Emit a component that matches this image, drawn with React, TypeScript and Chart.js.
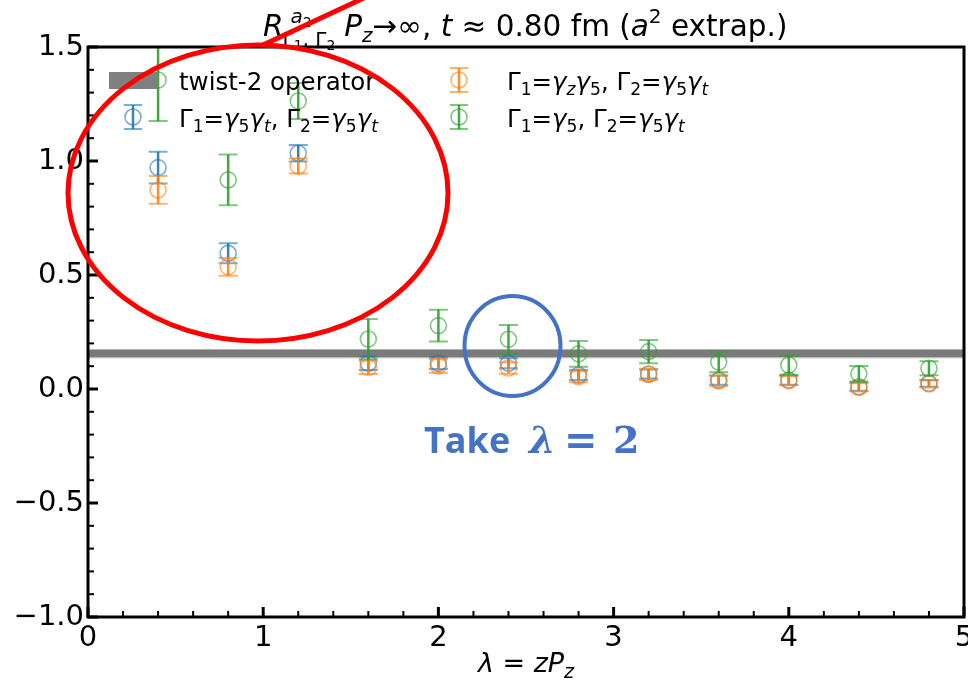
import React, { useEffect, useRef } from "react";
import { Chart, registerables } from "chart.js";

Chart.register(...registerables);

// λ = z·P_z sample points shared by all three operator combinations
const lambdas = [0.4, 0.8, 1.2, 1.6, 2.0, 2.4, 2.8, 3.2, 3.6, 4.0, 4.4, 4.8];

// Γ1=γ5γt, Γ2=γ5γt
const blueVals = [0.971, 0.595, 1.034, 0.113, 0.113, 0.113, 0.061, 0.066, 0.039, 0.039, 0.010, 0.025];
const blueErrs = [0.070, 0.044, 0.036, 0.030, 0.025, 0.022, 0.022, 0.020, 0.020, 0.020, 0.018, 0.015];

// Γ1=γzγ5, Γ2=γ5γt
const orangeVals = [0.873, 0.536, 0.978, 0.095, 0.101, 0.092, 0.054, 0.064, 0.035, 0.036, 0.007, 0.022];
const orangeErrs = [0.061, 0.039, 0.033, 0.029, 0.030, 0.025, 0.024, 0.025, 0.023, 0.020, 0.018, 0.015];

// Γ1=γ5, Γ2=γ5γt
const greenVals = [1.355, 0.917, 1.263, 0.219, 0.278, 0.218, 0.154, 0.164, 0.118, 0.105, 0.067, 0.091];
const greenErrs = [0.180, 0.111, 0.079, 0.088, 0.070, 0.063, 0.056, 0.051, 0.045, 0.042, 0.034, 0.031];

// twist-2 operator band (central value ± error)
const twist2Value = 0.155;
const twist2Err = 0.016;

const xTickValues = [0, 1, 2, 3, 4, 5];
const yTickValues = [-1.0, -0.5, 0.0, 0.5, 1.0, 1.5];

const FONT = '"DejaVu Sans"';
const BLUE = "31,119,180";
const ORANGE = "255,127,14";
const GREEN = "44,160,44";

type Run = { t: string; size: number; it?: boolean; dy?: number };

function drawRuns(ctx: CanvasRenderingContext2D, x: number, y: number, runs: Run[]): number {
  ctx.textAlign = "left";
  ctx.textBaseline = "alphabetic";
  for (const r of runs) {
    ctx.font = `${r.it ? "italic " : ""}${r.size}px ${FONT}`;
    ctx.fillText(r.t, x, y + (r.dy || 0));
    x += ctx.measureText(r.t).width;
  }
  return x;
}

function runsWidth(ctx: CanvasRenderingContext2D, runs: Run[]): number {
  let w = 0;
  for (const r of runs) {
    ctx.font = `${r.it ? "italic " : ""}${r.size}px ${FONT}`;
    w += ctx.measureText(r.t).width;
  }
  return w;
}

function gammaRuns(size: number, first: Run[]): Run[] {
  const sub = size * 0.7;
  const dy = size * 0.22;
  return [
    { t: "Γ", size },
    { t: "1", size: sub, dy },
    { t: "=", size },
    ...first,
    { t: ", Γ", size },
    { t: "2", size: sub, dy },
    { t: "=", size },
    { t: "γ", size, it: true },
    { t: "5", size: sub, dy },
    { t: "γ", size, it: true },
    { t: "t", size: sub, dy, it: true },
  ];
}

function errHandle(ctx: CanvasRenderingContext2D, x: number, y: number, rgb: string) {
  ctx.strokeStyle = `rgba(${rgb},0.9)`;
  ctx.lineWidth = 2.5;
  ctx.beginPath();
  ctx.moveTo(x, y - 12);
  ctx.lineTo(x, y + 12);
  ctx.stroke();
  ctx.strokeStyle = `rgba(${rgb},0.6)`;
  ctx.lineWidth = 2;
  ctx.beginPath();
  ctx.moveTo(x - 9, y - 12);
  ctx.lineTo(x + 9, y - 12);
  ctx.moveTo(x - 9, y + 12);
  ctx.lineTo(x + 9, y + 12);
  ctx.stroke();
  ctx.lineWidth = 1.6;
  ctx.beginPath();
  ctx.arc(x, y, 8, 0, Math.PI * 2);
  ctx.stroke();
}

const decorPlugin = {
  id: "decor",
  beforeDatasetsDraw(chart: any) {
    const { ctx, chartArea: a, scales } = chart;
    const y = scales.y;
    const yTop = y.getPixelForValue(twist2Value + twist2Err);
    const yBot = y.getPixelForValue(twist2Value - twist2Err);
    ctx.save();
    ctx.fillStyle = "#7a7a7a";
    ctx.fillRect(a.left, yTop, a.right - a.left, yBot - yTop);
    ctx.strokeStyle = "rgba(170,170,170,0.9)";
    ctx.lineWidth = 1;
    ctx.beginPath();
    ctx.moveTo(a.left, yTop - 0.5);
    ctx.lineTo(a.right, yTop - 0.5);
    ctx.moveTo(a.left, yBot + 0.5);
    ctx.lineTo(a.right, yBot + 0.5);
    ctx.stroke();
    ctx.restore();
  },
  beforeDatasetDraw(chart: any, args: any) {
    const { ctx, chartArea: a, scales } = chart;
    const ds = chart.data.datasets[args.index];
    const errs: number[] = ds.errs;
    const rgb: string = ds.rgb;
    ctx.save();
    ctx.beginPath();
    ctx.rect(a.left, a.top, a.right - a.left, a.bottom - a.top);
    ctx.clip();
    ds.data.forEach((p: any, i: number) => {
      const px = scales.x.getPixelForValue(p.x);
      const hi = scales.y.getPixelForValue(p.y + errs[i]);
      const lo = scales.y.getPixelForValue(p.y - errs[i]);
      ctx.strokeStyle = `rgba(${rgb},0.9)`;
      ctx.lineWidth = 2.5;
      ctx.beginPath();
      ctx.moveTo(px, hi);
      ctx.lineTo(px, lo);
      ctx.stroke();
      ctx.strokeStyle = `rgba(${rgb},0.6)`;
      ctx.lineWidth = 2;
      ctx.beginPath();
      ctx.moveTo(px - 9.5, hi);
      ctx.lineTo(px + 9.5, hi);
      ctx.moveTo(px - 9.5, lo);
      ctx.lineTo(px + 9.5, lo);
      ctx.stroke();
    });
    ctx.restore();
  },
  afterDraw(chart: any) {
    const { ctx, chartArea: a, scales } = chart;
    ctx.save();

    // axes frame
    ctx.strokeStyle = "#000";
    ctx.lineWidth = 3;
    ctx.strokeRect(a.left, a.top, a.right - a.left, a.bottom - a.top);

    // inward ticks on bottom and left
    ctx.lineCap = "butt";
    for (let i = 0; i <= 25; i++) {
      const v = i * 0.2;
      const major = i % 5 === 0;
      const px = scales.x.getPixelForValue(v);
      ctx.lineWidth = major ? 3 : 2;
      ctx.beginPath();
      ctx.moveTo(px, a.bottom);
      ctx.lineTo(px, a.bottom - (major ? 10 : 6));
      ctx.stroke();
    }
    for (let i = 0; i <= 25; i++) {
      const v = -1 + i * 0.1;
      const major = i % 5 === 0;
      const py = scales.y.getPixelForValue(v);
      ctx.lineWidth = major ? 3 : 2;
      ctx.beginPath();
      ctx.moveTo(a.left, py);
      ctx.lineTo(a.left + (major ? 10 : 6), py);
      ctx.stroke();
    }

    // title
    ctx.fillStyle = "#000";
    const base = 36;
    const T = 29.5;
    const xR = drawRuns(ctx, 263, base, [{ t: "R", size: T, it: true }]);
    const supEnd = drawRuns(ctx, xR + 7, base - 13, [
      { t: "a", size: 20, it: true },
      { t: "2", size: 14, dy: 4 },
    ]);
    const subEnd = drawRuns(ctx, xR - 1, base + 10, [
      { t: "Γ", size: 20 },
      { t: "1", size: 14, dy: 4 },
      { t: ", Γ", size: 20 },
      { t: "2", size: 14, dy: 4 },
    ]);
    drawRuns(ctx, Math.max(supEnd, subEnd) + 9, base, [
      { t: "P", size: T, it: true },
      { t: "z", size: 20, it: true, dy: 6 },
      { t: "→∞, ", size: T },
      { t: "t", size: T, it: true },
      { t: " ≈ 0.80 fm (", size: T },
      { t: "a", size: T, it: true },
      { t: "2", size: 20, dy: -13 },
      { t: " extrap.)", size: T },
    ]);

    // x-axis title
    const xl: Run[] = [
      { t: "λ", size: 27, it: true },
      { t: " = ", size: 27 },
      { t: "zP", size: 27, it: true },
      { t: "z", size: 19, it: true, dy: 6 },
    ];
    drawRuns(ctx, (a.left + a.right) / 2 - runsWidth(ctx, xl) / 2, 672, xl);

    // legend
    const L = 24.5;
    const ls = L * 0.7;
    const ld = L * 0.22;
    ctx.fillStyle = "#808080";
    ctx.fillRect(109, 72, 49, 17);
    errHandle(ctx, 133, 117, BLUE);
    errHandle(ctx, 459, 80, ORANGE);
    errHandle(ctx, 459, 117, GREEN);
    ctx.fillStyle = "#000";
    drawRuns(ctx, 179, 90, [{ t: "twist-2 operator", size: L }]);
    drawRuns(ctx, 179, 127, gammaRuns(L, [
      { t: "γ", size: L, it: true },
      { t: "5", size: ls, dy: ld },
      { t: "γ", size: L, it: true },
      { t: "t", size: ls, dy: ld, it: true },
    ]));
    drawRuns(ctx, 507, 90, gammaRuns(L, [
      { t: "γ", size: L, it: true },
      { t: "z", size: ls, dy: ld, it: true },
      { t: "γ", size: L, it: true },
      { t: "5", size: ls, dy: ld },
    ]));
    drawRuns(ctx, 507, 127, gammaRuns(L, [
      { t: "γ", size: L, it: true },
      { t: "5", size: ls, dy: ld },
    ]));

    // highlight marks
    ctx.strokeStyle = "#ff0000";
    ctx.lineWidth = 5;
    ctx.beginPath();
    ctx.ellipse(258, 193, 190, 148, 0, 0, Math.PI * 2);
    ctx.stroke();
    ctx.beginPath();
    ctx.moveTo(263, 45);
    ctx.lineTo(366, -3);
    ctx.stroke();

    ctx.strokeStyle = "#4472c4";
    ctx.lineWidth = 4;
    ctx.beginPath();
    ctx.ellipse(512.5, 346, 48, 50, 0, 0, Math.PI * 2);
    ctx.stroke();

    ctx.fillStyle = "#4472c4";
    ctx.textBaseline = "alphabetic";
    ctx.textAlign = "left";
    ctx.font = `bold 36px "Open Sans"`;
    ctx.fillText("Take", 424, 453);
    ctx.font = `bold italic 38px "DejaVu Serif"`;
    ctx.fillText("λ", 529, 453);
    ctx.font = `bold 40px "DejaVu Sans"`;
    ctx.fillText("=", 564, 454);
    ctx.font = `bold 38px "DejaVu Serif"`;
    ctx.fillText("2", 613, 453);

    ctx.restore();
  },
};

function makeDataset(label: string, vals: number[], errs: number[], rgb: string, order: number) {
  return {
    label,
    data: lambdas.map((x, i) => ({ x, y: vals[i] })),
    errs,
    rgb,
    order,
    showLine: false,
    pointRadius: 8,
    pointHoverRadius: 8,
    pointBorderWidth: 1.6,
    pointBackgroundColor: "rgba(0,0,0,0)",
    pointBorderColor: `rgba(${rgb},0.6)`,
  };
}

export default function App() {
  const ref = useRef<HTMLCanvasElement | null>(null);

  useEffect(() => {
    if (!ref.current) return;
    const chart = new Chart(ref.current, {
      type: "scatter",
      data: {
        datasets: [
          makeDataset("Γ1=γ5γt, Γ2=γ5γt", blueVals, blueErrs, BLUE, 3),
          makeDataset("Γ1=γzγ5, Γ2=γ5γt", orangeVals, orangeErrs, ORANGE, 2),
          makeDataset("Γ1=γ5, Γ2=γ5γt", greenVals, greenErrs, GREEN, 1),
        ] as any,
      },
      options: {
        animation: false,
        responsive: false,
        devicePixelRatio: 1,
        layout: { autoPadding: false, padding: { top: 47, right: 4, left: 0, bottom: 0 } },
        plugins: {
          legend: { display: false },
          title: { display: false },
          tooltip: { enabled: false },
        },
        scales: {
          x: {
            type: "linear",
            min: 0,
            max: 5,
            afterBuildTicks: (s: any) => {
              s.ticks = xTickValues.map((v) => ({ value: v }));
            },
            afterFit: (s: any) => {
              s.height = 65;
              s.paddingLeft = 0;
              s.paddingRight = 0;
            },
            grid: { display: false, drawTicks: false },
            border: { display: false },
            ticks: {
              padding: 4,
              color: "#000",
              font: { family: "DejaVu Sans", size: 29 },
              maxRotation: 0,
              autoSkip: false,
              callback: (v: any) => String(v),
            },
          },
          y: {
            type: "linear",
            min: -1,
            max: 1.5,
            afterBuildTicks: (s: any) => {
              s.ticks = yTickValues.map((v) => ({ value: v }));
            },
            afterFit: (s: any) => {
              s.width = 88;
              s.paddingTop = 0;
              s.paddingBottom = 0;
            },
            grid: { display: false, drawTicks: false },
            border: { display: false },
            ticks: {
              padding: 4,
              color: "#000",
              font: { family: "DejaVu Sans", size: 29 },
              autoSkip: false,
              callback: (v: any) => Number(v).toFixed(1).replace("-", "\u2212"),
            },
          },
        },
      },
      plugins: [decorPlugin],
    });
    return () => chart.destroy();
  }, []);

  return (
    <div style={{ position: "fixed", left: 0, top: 0, width: 968, height: 682, background: "#fff" }}>
      <canvas ref={ref} width={968} height={682} style={{ width: 968, height: 682, display: "block" }} />
    </div>
  );
}
